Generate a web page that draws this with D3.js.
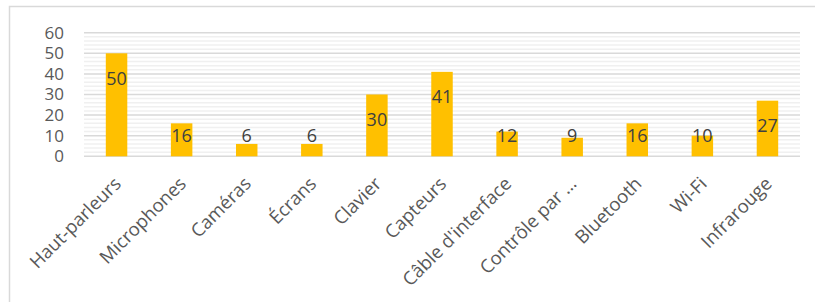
<!DOCTYPE html>
<html><head><meta charset="utf-8">
<script src="https://cdn.jsdelivr.net/npm/d3@7"></script>
<style>
html,body{margin:0;padding:0;background:#fff;}
svg{display:block;}
text{font-family:"Open Sans",sans-serif;}
</style></head>
<body>
<svg id="chart" width="815" height="302"></svg>
<script>
const categories = ["Haut-parleurs","Microphones","Caméras","Écrans","Clavier","Capteurs","Câble d'interface","Contrôle par …","Bluetooth","Wi-Fi","Infrarouge"];
const values = [50,16,6,6,30,41,12,9,16,10,27];
const yTicks = [0,10,20,30,40,50,60];
const minorTicks = d3.range(0,61,2);

(function(){
const svg = d3.select("#chart");
svg.append("rect").attr("x",9.5).attr("y",6.5).attr("width",900).attr("height",400)
  .attr("fill","none").attr("stroke","#d9d9d9").attr("stroke-width",1.5);

const pLeft=84, pRight=800, pTop=32.7, pBottom=156.3;
const x = d3.scaleBand().domain(categories).range([pLeft,pRight]).paddingInner(0.67).paddingOuter(0.335);
const y = d3.scaleLinear().domain([0,60]).range([pBottom,pTop]);

const g = svg.append("g");
g.selectAll("line.minor").data(minorTicks.filter(d=>d%10!==0)).join("line").attr("class","minor")
  .attr("x1",pLeft).attr("x2",pRight).attr("y1",d=>y(d)).attr("y2",d=>y(d))
  .attr("stroke","#f0f0f0").attr("stroke-width",1.5);
g.selectAll("line.major").data(yTicks).join("line").attr("class","major")
  .attr("x1",pLeft).attr("x2",pRight).attr("y1",d=>y(d)).attr("y2",d=>y(d))
  .attr("stroke","#d9d9d9").attr("stroke-width",1.5);

const yAxis = d3.axisLeft(y).tickValues(yTicks).tickSize(0).tickPadding(0);
const ya = svg.append("g").attr("transform","translate(64,0)").call(yAxis);
ya.select(".domain").remove();
ya.selectAll("text").attr("font-size","17px").attr("fill","#595959").attr("font-family","Open Sans");

svg.selectAll("rect.bar").data(values).join("rect").attr("class","bar")
  .attr("x",(d,i)=>x(categories[i])).attr("width",x.bandwidth())
  .attr("y",d=>y(d)).attr("height",d=>y(0)-y(d)).attr("fill","#FFC000");

svg.selectAll("text.lbl").data(values).join("text").attr("class","lbl")
  .attr("x",(d,i)=>x(categories[i])+x.bandwidth()/2)
  .attr("y",d=>Math.min(y(d)+25, y(0)-21))
  .attr("dy","0.35em").attr("text-anchor","middle")
  .attr("font-size","18px").attr("fill","#404040").text(d=>d);

const xAxis = d3.axisBottom(x).tickSize(0).tickPadding(0);
const xa = svg.append("g").attr("transform","translate(0,"+pBottom+")").call(xAxis);
xa.select(".domain").remove();
xa.selectAll("text")
  .attr("text-anchor","end").attr("font-size","18.5px").attr("fill","#595959").attr("font-family","Open Sans")
  .attr("y",0).attr("dy","0.35em")
  .attr("transform","translate(1,24) rotate(-45)");
})();
</script>
</body></html>
